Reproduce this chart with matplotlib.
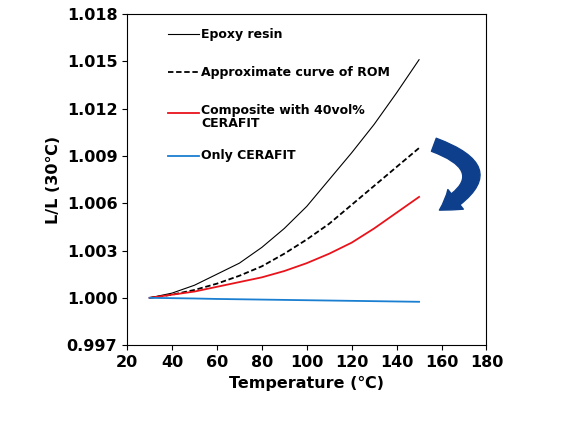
import matplotlib
matplotlib.use("Agg")
import matplotlib.pyplot as plt
from matplotlib.patches import FancyArrowPatch

plt.rcParams["font.family"] = ["DejaVu Sans", "Noto Sans CJK JP"]
plt.rcParams["font.weight"] = "bold"

TEMP = [30, 40, 50, 60, 70, 80, 90, 100, 110, 120, 130, 140, 150]
EPOXY = [1.0000, 1.0003, 1.0008, 1.0015, 1.0022, 1.0032, 1.0044, 1.0058, 1.0075, 1.0092, 1.0110, 1.0130, 1.0151]
ROM = [1.0000, 1.0002, 1.0005, 1.0009, 1.0014, 1.0020, 1.0028, 1.0037, 1.0047, 1.0059, 1.0071, 1.0083, 1.0095]
COMPOSITE = [1.0000, 1.0002, 1.0004, 1.0007, 1.0010, 1.0013, 1.0017, 1.0022, 1.0028, 1.0035, 1.0044, 1.0054, 1.0064]
CERAFIT = [1.0000, 0.99998, 0.99996, 0.99993, 0.99991, 0.99989, 0.99987, 0.99985, 0.99983, 0.99981, 0.99979, 0.99977, 0.99975]

fig = plt.figure(figsize=(5.75, 4.23), dpi=100)
ax = fig.add_axes([0.221, 0.184, 0.625, 0.783])

ax.plot(TEMP, EPOXY, color="black", linewidth=0.8)
ax.plot(TEMP, ROM, color="black", linewidth=1.3, linestyle=(0, (3, 1.5)))
ax.plot(TEMP, COMPOSITE, color="#e8131b", linewidth=1.3)
ax.plot(TEMP, CERAFIT, color="#1a7fd0", linewidth=1.3)

ax.set_xlim(20, 180)
ax.set_ylim(0.997, 1.018)
ax.set_xticks(range(20, 181, 20))
ax.set_yticks([0.997, 1.000, 1.003, 1.006, 1.009, 1.012, 1.015, 1.018])
ax.set_yticklabels([f"{v:.3f}" for v in ax.get_yticks()])
ax.tick_params(labelsize=11.5, direction="out")
for lab in ax.get_xticklabels() + ax.get_yticklabels():
    lab.set_fontweight("bold")
ax.set_xlabel("Temperature (℃)", fontsize=11.5, fontweight="bold")
ax.set_ylabel("L/L (30℃)", fontsize=11.5, fontweight="bold")

# inline legend
legend_items = [
    (1.0167, 1.0167, "black", "-", 0.8, "Epoxy resin"),
    (1.0143, 1.0143, "black", (0, (3, 1.5)), 1.3, "Approximate curve of ROM"),
    (1.0117, 1.0123, "#e8131b", "-", 1.3, "Composite with 40vol%\nCERAFIT"),
    (1.0090, 1.0090, "#1a7fd0", "-", 1.3, "Only CERAFIT"),
]
for y, ty, c, ls, lw, txt in legend_items:
    ax.plot([38, 52], [y, y], color=c, linestyle=ls, linewidth=lw)
    ax.text(53, ty, txt, fontsize=9, fontweight="bold",
            va="top" if "\n" in txt else "center", linespacing=1.0)

arrow = FancyArrowPatch((0.75, 0.66), (0.76, 0.50), transform=fig.transFigure,
                        connectionstyle="arc3,rad=-1.1",
                        arrowstyle="simple,head_width=18,head_length=14,tail_width=10",
                        color="#0e3f8c", clip_on=False)
fig.patches.append(arrow)

fig.savefig("out.png", dpi=100)
